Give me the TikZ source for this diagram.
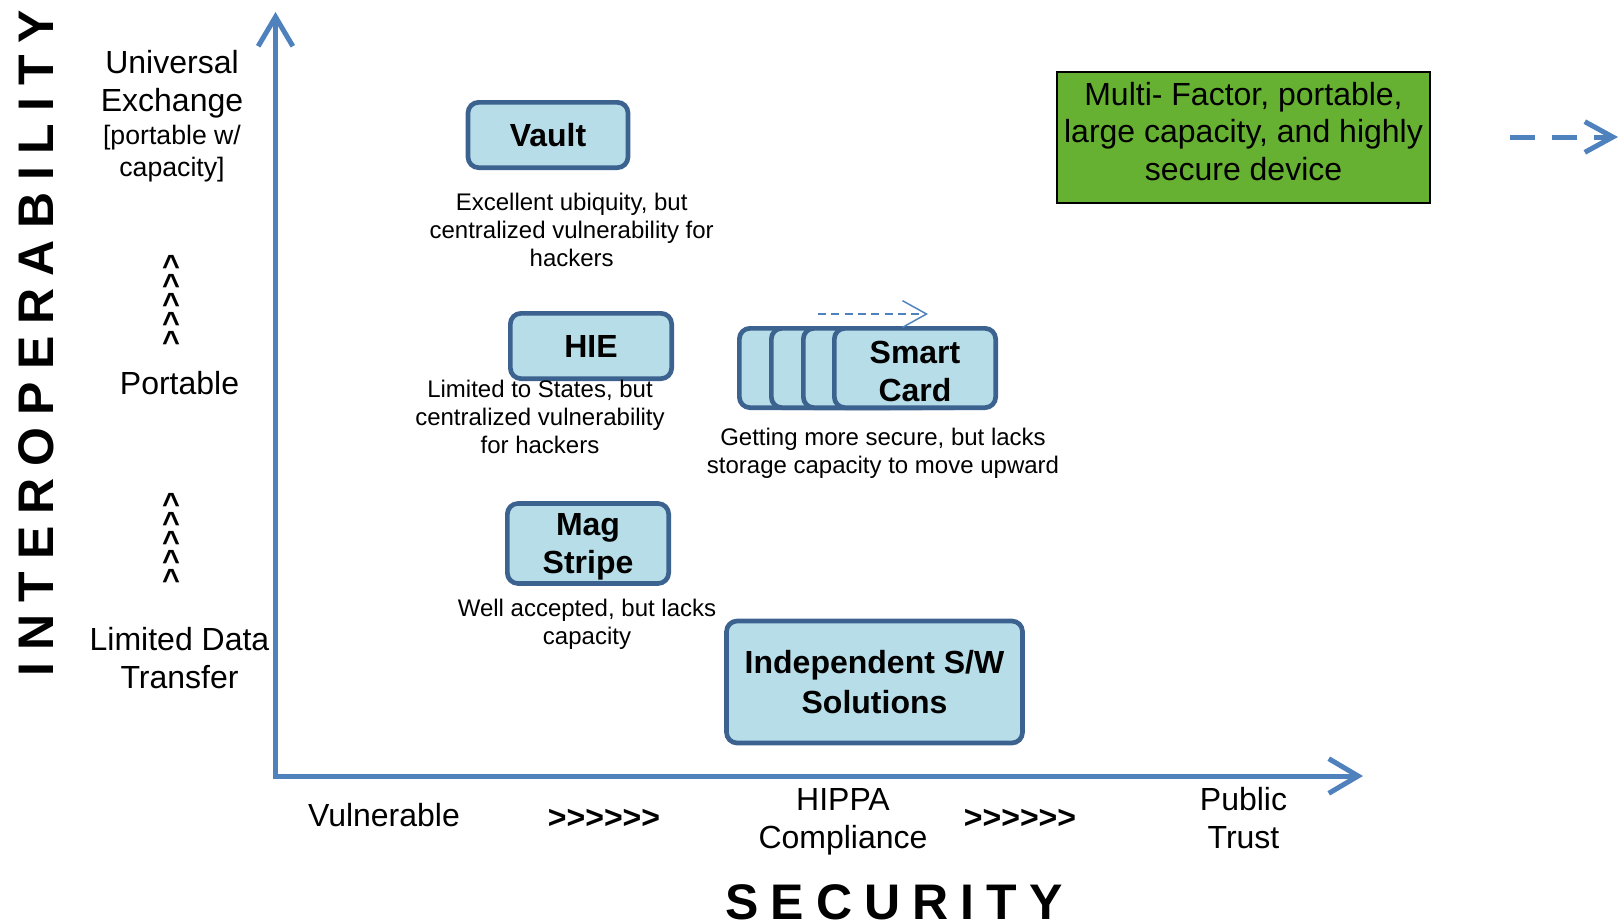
\documentclass[tikz,border=0pt]{standalone}
\usepackage{fontspec}
\setmainfont{Liberation Sans}
\usetikzlibrary{arrows.meta}

\definecolor{axisblue}{HTML}{4F81BD}
\definecolor{boxfill}{HTML}{B7DEE8}
\definecolor{boxline}{HTML}{3C6290}
\definecolor{leafgreen}{HTML}{66B032}

% a row of six ">" kept apart so that they do not merge into guillemets
\newcommand{\gtrow}{>\kern0pt>\kern0pt>\kern0pt>\kern0pt>\kern0pt>}
% taller first line, to lower two-line card titles a little
\newcommand{\lowerfirst}{\rule{0pt}{22pt}}

\begin{document}
\begin{tikzpicture}[x=0.75pt,y=-0.75pt,
  lbl/.style={font=\fontsize{24}{28}\selectfont, align=center, inner sep=0pt, anchor=base},
  sublbl/.style={font=\fontsize{20}{24}\selectfont, align=center, inner sep=0pt, anchor=base},
  note/.style={font=\fontsize{18}{21}\selectfont, align=center, inner sep=0pt, anchor=base},
  boldlbl/.style={font=\fontsize{24}{28}\selectfont\bfseries, align=center, inner sep=0pt, anchor=base},
  bigtitle/.style={font=\fontsize{37.5}{40}\selectfont\bfseries, inner sep=0pt, anchor=base},
  caretmark/.style={font=\fontsize{23}{23}\selectfont\bfseries, inner sep=0pt, anchor=base},
  card/.style={draw=boxline, fill=boxfill, line width=3.5pt, rounded corners=8pt,
    font=\fontsize{24}{28.5}\selectfont\bfseries, align=center, inner sep=0pt},
  axis/.style={draw=axisblue, line width=3.75pt,
    {Straight Barb[length=22pt,width=26pt]}-{Straight Barb[length=22pt,width=26pt]}},
]
\useasboundingbox (0,0) rectangle (1618,922);

% axes
\coordinate (origin) at (275.5,776);
\coordinate (ytip) at (275.5,12);
\coordinate (xtip) at (1363,776);
\draw[axis] (ytip) -- (origin) -- (xtip);

% axis titles
\node[bigtitle, rotate=90] (interop) at (53.7,343)
  {\makebox[499.5pt]{I\hfill N\hfill T\hfill E\hfill R\hfill O\hfill P\hfill E\hfill R\hfill A\hfill B\hfill I\hfill L\hfill I\hfill T\hfill Y}};
\node[bigtitle] (security) at (894,919)
  {\makebox[253.5pt]{S\hfill E\hfill C\hfill U\hfill R\hfill I\hfill T\hfill Y}};

% interoperability levels (multi-line nodes sit on their last baseline)
\node[lbl] (universal) at (172,111) {Universal\\Exchange};
\node[sublbl] (universalsub) at (172,176.5) {[portable w/\\capacity]};
\node[lbl] (portable) at (179.5,394) {Portable};
\node[lbl] (limited) at (179.5,688) {Limited Data\\Transfer};
\foreach \k in {0,...,4} {
  \node[caretmark] (upper-\k) at (171,276+19*\k) {\textasciicircum};
  \node[caretmark] (lower-\k) at (171,514+19*\k) {\textasciicircum};
}

% security levels
\node[lbl] (vulnerable) at (384,826) {Vulnerable};
\node[boldlbl] (steps1) at (604,828) {\gtrow};
\node[lbl] (hippa) at (843,848) {HIPPA\\Compliance};
\node[boldlbl] (steps2) at (1020,828) {\gtrow};
\node[lbl] (public) at (1243.5,848) {Public\\Trust};

% technologies
\node[card, minimum width=120pt, minimum height=49pt] (vault) at (548,135) {Vault};
\node[note] (vaultnote) at (571.7,266) {Excellent ubiquity, but\\centralized vulnerability for\\hackers};

\node[card, minimum width=121pt, minimum height=49pt] (hie) at (591,346) {HIE};
\node[note] (hienote) at (540,453) {Limited to States, but\\centralized vulnerability\\for hackers};

\node[card, minimum width=121pt, minimum height=60pt] (mag) at (588,543.5) {\lowerfirst Mag\\Stripe};
\node[note] (magnote) at (587,644) {Well accepted, but lacks\\capacity};

\node[card, minimum width=121pt, minimum height=59.5pt] (card1) at (820,368) {};
\node[card, minimum width=121pt, minimum height=59.5pt] (card2) at (852,368) {};
\node[card, minimum width=121pt, minimum height=59.5pt] (card3) at (884,368) {};
\node[card, minimum width=121pt, minimum height=59.5pt] (smart) at (915,368) {\lowerfirst Smart\\Card};
\node[note] (smartnote) at (883,473.5) {Getting more secure, but lacks\\storage capacity to move upward};
\coordinate (smartfrom) at (818,314);
\coordinate (smartto) at (928,314);
\draw[axisblue, line width=1.1pt, dash pattern=on 6pt off 4pt,
  -{Straight Barb[length=18pt,width=20pt]}] (smartfrom) -- (smartto);

\node[card, font=\fontsize{24}{29.6}\selectfont\bfseries, minimum width=222pt, minimum height=91.5pt] (indep) at (874.5,682)
  {Independent S/W\\Solutions};

% target device
\node[draw=black, fill=leafgreen, line width=1.5pt, minimum width=279.4pt, minimum height=98.25pt, inner sep=0pt] (device) at (1243.7,137.5) {};
\node[lbl, font=\fontsize{24}{28.1}\selectfont] (devicetext) at (1243.5,180)
  {Multi- Factor, portable,\\large capacity, and highly\\secure device};
\coordinate (nextfrom) at (1510,137);
\coordinate (nextto) at (1618,137);
\draw[axisblue, line width=3.75pt, dash pattern=on 18.75pt off 12.75pt,
  -{Straight Barb[length=21pt,width=23pt]}] (nextfrom) -- (nextto);
\end{tikzpicture}
\end{document}
